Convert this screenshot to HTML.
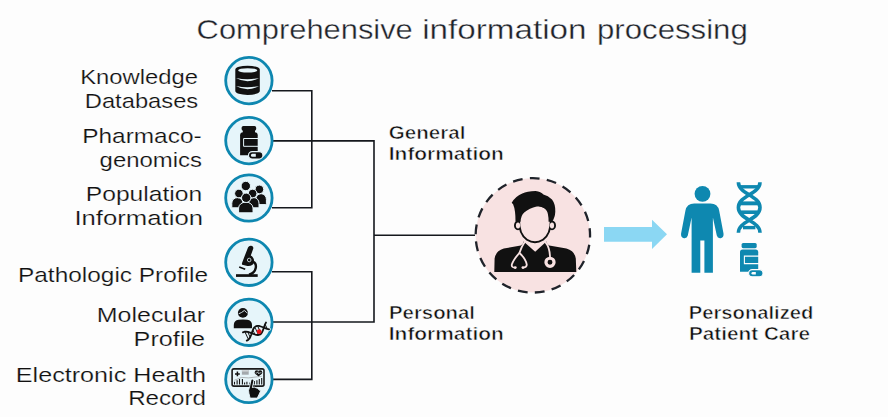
<!DOCTYPE html>
<html><head><meta charset="utf-8">
<style>
html,body{margin:0;padding:0;background:#fdfdfd;}
body{width:888px;height:417px;overflow:hidden;position:relative;}
svg{position:absolute;left:0;top:0;}
text{font-family:"Liberation Sans",sans-serif;}
.t{font-size:27.5px;fill:#1f232a;stroke:#fdfdfd;stroke-width:0.35px;}
.l{font-size:21px;fill:#111;stroke:#fdfdfd;stroke-width:0.2px;}
.b{font-size:18.5px;font-weight:bold;fill:#111;stroke:#fdfdfd;stroke-width:0.55px;}
</style></head><body>
<svg width="888" height="417" viewBox="0 0 888 417">
<!--TEXT-->
<text class="t" text-anchor="start" x="196.60" y="38.6" textLength="216.20" lengthAdjust="spacingAndGlyphs">Comprehensive</text>
<text class="t" text-anchor="start" x="422.20" y="38.6" textLength="164.40" lengthAdjust="spacingAndGlyphs">information</text>
<text class="t" text-anchor="start" x="597.00" y="38.6" textLength="150.80" lengthAdjust="spacingAndGlyphs">processing</text>
<text class="l" text-anchor="end" x="198.00" y="84" textLength="117.80" lengthAdjust="spacingAndGlyphs">Knowledge</text>
<text class="l" text-anchor="end" x="198.20" y="108" textLength="113.40" lengthAdjust="spacingAndGlyphs">Databases</text>
<text class="l" text-anchor="end" x="201.60" y="143" textLength="119.40" lengthAdjust="spacingAndGlyphs">Pharmaco-</text>
<text class="l" text-anchor="end" x="202.00" y="166.8" textLength="102.40" lengthAdjust="spacingAndGlyphs">genomics</text>
<text class="l" text-anchor="end" x="202.20" y="201" textLength="116.40" lengthAdjust="spacingAndGlyphs">Population</text>
<text class="l" text-anchor="end" x="203.00" y="225" textLength="128.60" lengthAdjust="spacingAndGlyphs">Information</text>
<text class="l" text-anchor="end" x="208.00" y="281.8" textLength="190.00" lengthAdjust="spacingAndGlyphs">Pathologic Profile</text>
<text class="l" text-anchor="end" x="205.00" y="322" textLength="108.20" lengthAdjust="spacingAndGlyphs">Molecular</text>
<text class="l" text-anchor="end" x="205.00" y="346" textLength="71.40" lengthAdjust="spacingAndGlyphs">Profile</text>
<text class="l" text-anchor="end" x="206.00" y="382" textLength="190.20" lengthAdjust="spacingAndGlyphs">Electronic Health</text>
<text class="l" text-anchor="end" x="206.00" y="405" textLength="77.80" lengthAdjust="spacingAndGlyphs">Record</text>
<text class="b" text-anchor="start" x="388.80" y="139" textLength="76.60" lengthAdjust="spacingAndGlyphs">General</text>
<text class="b" text-anchor="start" x="388.80" y="160" textLength="115.00" lengthAdjust="spacingAndGlyphs">Information</text>
<text class="b" text-anchor="start" x="389.00" y="319" textLength="86.00" lengthAdjust="spacingAndGlyphs">Personal</text>
<text class="b" text-anchor="start" x="388.80" y="340" textLength="115.00" lengthAdjust="spacingAndGlyphs">Information</text>
<text class="b" text-anchor="start" x="688.80" y="319" textLength="124.60" lengthAdjust="spacingAndGlyphs">Personalized</text>
<text class="b" text-anchor="start" x="689.00" y="340" textLength="121.00" lengthAdjust="spacingAndGlyphs">Patient Care</text>
<!--/TEXT-->

<!-- connector lines -->
<g fill="none" stroke="#15181d" stroke-width="1.6">
<path d="M272 90.8H311.8V207.8H272"/>
<path d="M272 140.9H374V322H272"/>
<path d="M272 271.7H311.8V379.4H272"/>
<path d="M374 235.3H475"/>
</g>

<!-- icon circles -->
<g fill="#e6f5fa" stroke="#0e87b0" stroke-width="2.8">
<circle cx="248.9" cy="80.6" r="23.2"/>
<circle cx="248.9" cy="140.6" r="23.2"/>
<circle cx="248.9" cy="198" r="23.2"/>
<circle cx="248.9" cy="262.3" r="23.2"/>
<circle cx="248.9" cy="322.3" r="23.2"/>
<circle cx="248.9" cy="379.5" r="23.2"/>
</g>

<!-- database icon -->
<g>
<path d="M235.3 69.6A12.25 3.9 0 0 1 259.8 69.6V91.1A12.25 3.9 0 0 1 235.3 91.1Z" fill="#111"/>
<ellipse cx="247.7" cy="70.4" rx="9.6" ry="2.2" fill="#e6f5fa"/>
<path d="M236 78Q247.5 84.6 259 78Q247.5 80.4 236 78Z" fill="#e6f5fa"/>
<path d="M236 86Q247.5 92.6 259 86Q247.5 88.4 236 86Z" fill="#e6f5fa"/>
</g>

<!-- pill bottle icon -->
<g>
<rect x="241.6" y="125.9" width="14.6" height="4.9" rx="1.8" fill="#111"/>
<rect x="242.8" y="130" width="12.2" height="3" fill="#111"/>
<path d="M240.1 135.2Q240.1 132.2 243.1 132.2H254.7Q257.7 132.2 257.7 135.2V155.3H240.1Z" fill="#111"/>
<path d="M258.4 138.5H243.6V146.3H258.4" fill="none" stroke="#e6f5fa" stroke-width="1"/>
<rect x="248.5" y="151.6" width="14.4" height="7.4" rx="3.7" fill="#111" stroke="#e6f5fa" stroke-width="1.1"/>
<path d="M255.8 153.8H252.4A1.5 1.5 0 0 0 252.4 156.8H255.8Z" fill="#e6f5fa"/>
</g>

<!-- people icon -->
<g fill="#111" stroke="#e6f5fa" stroke-width="1">
<circle cx="245.8" cy="186" r="4.7"/>
<path d="M255.8 204.6V199.4A5.2 5.6 0 0 1 266.4 199.4V203.6Q266.4 204.6 265.4 204.6Z"/>
<circle cx="259.4" cy="189.4" r="4.3"/>
<path d="M231.8 207.8V203.2A5.6 5.6 0 0 1 243 203.2V207.8Z"/>
<circle cx="238.9" cy="193.5" r="4.3"/>
<path d="M248.6 207.8V203.2A5.2 5.6 0 0 1 259 203.2V207.8Z"/>
<circle cx="252.6" cy="193.5" r="4.3"/>
<path d="M238.6 212.8V208A7.2 5.9 0 0 1 253 208V211.8Q253 212.8 252 212.8H239.6Q238.6 212.8 238.6 211.8Z"/>
<circle cx="246.2" cy="197.8" r="4.7"/>
</g>

<!-- microscope icon -->
<g fill="#111">
<rect x="236" y="274.2" width="21.7" height="2.7"/>
<path d="M252.3 261.4C257.6 263.2 257.4 272.2 249 274.6" fill="none" stroke="#111" stroke-width="2.4"/>
<path d="M251.3 245.7Q253.7 246.2 253.3 248.4L250.8 255.6Q254.6 258 254 262.2Q253 266.4 247.4 266L242.2 264.8Q241.6 264 242.2 262.4L248 247.4Q249 245.3 251.3 245.7Z"/>
<path d="M239.2 266.9L245.2 269.3" stroke="#111" stroke-width="1.6"/>
<circle cx="249.2" cy="260" r="1.8" fill="none" stroke="#e6f5fa" stroke-width="0.8"/>
</g>

<!-- molecular icon -->
<g>
<ellipse cx="242.9" cy="312.9" rx="5" ry="4.9" fill="#111"/>
<path d="M238.6 313.8Q241.4 313 244.3 310.5Q246 311.6 247.6 313.4" fill="none" stroke="#e6f5fa" stroke-width="0.9"/>
<path d="M233.8 328.2V325Q233.8 320.4 238.6 319.7Q243 319.1 247.2 319.7Q252 320.4 252 325V328.2Z" fill="#111"/>
<g id="dnaM" transform="translate(256.2 331.2) rotate(-25)" fill="none" stroke-linecap="round" stroke-linejoin="round">
<g stroke="#e6f5fa" stroke-width="3.4">
<path d="M-12.5 -4.5 -10.9 -4.5 -9.4 -3.9 -7.8 -2.8 -6.2 -1.3 -4.7 0.3 -3.1 1.9 -1.6 3.3 0.0 4.2 1.6 4.6 3.1 4.4 4.7 3.6 6.2 2.3 7.8 0.7 9.4 -0.9 10.9 -2.5 12.5 -3.7"/>
<path d="M-12.5 4.5 -10.9 4.5 -9.4 3.9 -7.8 2.8 -6.2 1.3 -4.7 -0.3 -3.1 -1.9 -1.6 -3.3 0.0 -4.2 1.6 -4.6 3.1 -4.4 4.7 -3.6 6.2 -2.3 7.8 -0.7 9.4 0.9 10.9 2.5 12.5 3.7"/>
</g>
<g stroke="#111" stroke-width="1.8">
<path d="M-12.5 -4.5 -10.9 -4.5 -9.4 -3.9 -7.8 -2.8 -6.2 -1.3 -4.7 0.3 -3.1 1.9 -1.6 3.3 0.0 4.2 1.6 4.6 3.1 4.4 4.7 3.6 6.2 2.3 7.8 0.7 9.4 -0.9 10.9 -2.5 12.5 -3.7"/>
<path d="M-12.5 4.5 -10.9 4.5 -9.4 3.9 -7.8 2.8 -6.2 1.3 -4.7 -0.3 -3.1 -1.9 -1.6 -3.3 0.0 -4.2 1.6 -4.6 3.1 -4.4 4.7 -3.6 6.2 -2.3 7.8 -0.7 9.4 0.9 10.9 2.5 12.5 3.7"/>
<path d="M-10.5 -3.7V3.7M-8 -2.5V2.5M-2.5 -2.1V2.1M0.5 -3.7V3.7M3.5 -3.6V3.6M11 -2.1V2.1" stroke-width="0.9"/>
</g>
</g>
<circle cx="259.2" cy="331.7" r="2.4" fill="#e8141b"/>
</g>

<!-- EHR icon -->
<g>
<rect x="232.1" y="368.9" width="31.9" height="17.2" rx="1.8" fill="#e6f5fa" stroke="#1a1a1a" stroke-width="1.6"/>
<path d="M235 373.9H239.8M237.4 371.5V376.3" stroke="#111" stroke-width="1.5"/>
<rect x="241.9" y="370" width="6.8" height="4.7" fill="#a3a9ad"/>
<rect x="241.9" y="370" width="6.8" height="1.6" fill="#cfd3d6"/>
<circle cx="256.8" cy="372.4" r="2.1" fill="#111"/>
<circle cx="260.2" cy="372.4" r="2.1" fill="#111"/>
<path d="M254.8 373.2L258.5 376.6L262.2 373.2Z" fill="#111"/>
<path d="M255.4 373H257L257.8 371.8L258.8 374L259.6 372.8H261.6" fill="none" stroke="#e6f5fa" stroke-width="0.6"/>
<path d="M234.2 380.3L241.6 377.4L248.5 377.9L261.7 376.3" fill="none" stroke="#777" stroke-width="0.5"/>
<path d="M234.5 384.4V381.8M237.1 384.4V380.3M239.5 384.4V378.9M242.4 384.4V378.9M244.6 384.4V382.6M246.9 384.4V381.8M250 384.4V382.6M254.3 384.4V381M256.9 384.4V380.3M259.3 384.4V378.9M261.7 384.4V378.1" stroke="#111" stroke-width="1.1"/>
<path d="M252.4 380.4L250.6 389" stroke="#e6f5fa" stroke-width="3.6" stroke-linecap="round"/>
<path d="M248.5 390.2Q249.2 387.9 250.9 387.6L254.2 387.1Q257.4 387.6 260.6 391.1L258.9 394.7L257.3 398.1H250.1L248.9 393.2Z" fill="#111" stroke="#e6f5fa" stroke-width="0.9"/>
<path d="M252.4 380.4L250.6 389" stroke="#111" stroke-width="2" stroke-linecap="round"/>
</g>

<!-- doctor circle -->
<circle cx="532.85" cy="235.35" r="57.2" fill="#f8e2e2" stroke="#1f232a" stroke-width="2.3" stroke-dasharray="9.8 7.31" stroke-dashoffset="-9.45"/>

<!-- arrow -->
<path d="M604 227.1H652V219.8L667 234.3L652 249V241.8H604Z" fill="#8bd7f3"/>

<!-- doctor -->
<g>
<path d="M494.3 271.9L494.6 258.5Q495.8 250.8 503.8 248.6L520.8 245.4Q523 244.6 523.6 241.4L535.2 251.8L546.4 241.4Q547 244.6 549.2 245.4L566.4 248.6Q574.6 250.8 575.8 258.5L576.3 271.9Z" fill="#111"/>
<g fill="#111" stroke="#111" stroke-width="3.8">
<ellipse cx="518" cy="225.4" rx="2.1" ry="3"/>
<ellipse cx="552" cy="225.4" rx="2.1" ry="3"/>
<path d="M520 220Q519.8 233.5 527.5 239Q535 243.6 542.4 239Q550 233.5 549.8 220Q549.8 206 534.9 206Q520 206 520 220Z"/>
</g>
<g fill="#f8e2e2">
<ellipse cx="518" cy="225.4" rx="2.1" ry="3"/>
<ellipse cx="552" cy="225.4" rx="2.1" ry="3"/>
<path d="M520 220Q519.8 233.5 527.5 239Q535 243.6 542.4 239Q550 233.5 549.8 220Q549.8 206 534.9 206Q520 206 520 220Z"/>
</g>
<path d="M511.7 202.7Q516 196 522.3 193.6Q527 191 535.7 190.9Q541 191.5 543.4 194.6Q548 195.5 552 199.4Q555.6 204 555.3 211.8Q555 218 552 221.8L548.6 221.8Q548.6 213 546.2 210Q542.4 205.6 536.6 206.4Q529.6 207.8 524.2 212.6Q520.8 215.6 520.6 221.8L515.5 221.8Q515.6 210 513.1 204.2Z" fill="#111"/>
<g fill="none" stroke="#f8e2e2" stroke-width="1.8" stroke-linecap="round">
<path d="M524.4 242.6Q521.6 246.6 519.4 253Q513.4 259.6 511.8 264.6Q511.4 267.4 514.6 267.6"/>
<path d="M519.4 253Q525.8 258.8 526.8 264.6Q526.8 267.4 523.6 267.6"/>
<path d="M545.6 242.4Q549.6 247.4 550 256.6"/>
</g>
<circle cx="515.3" cy="267.6" r="1.4" fill="#f8e2e2"/>
<circle cx="522.9" cy="267.6" r="1.4" fill="#f8e2e2"/>
<circle cx="550" cy="262.3" r="4.05" fill="#111" stroke="#f8e2e2" stroke-width="3.2"/>
</g>

<!-- person -->
<g fill="#0e88b0">
<circle cx="702.5" cy="193.8" r="7.9"/>
<path d="M702.6 203.6H694.2Q686.8 203.6 685.4 210.8L681.1 233.6Q680.7 237.6 684 238.2Q687 238.6 687.8 235.6L691.6 217.4V272.8H700.3V240.6H704.4V272.8H712.9V217.4L716.8 235.6Q717.6 238.6 720.6 238.2Q723.9 237.6 723.5 233.6L719.2 210.8Q717.8 203.6 710.4 203.6Z"/>
</g>

<!-- dna -->
<g fill="none" stroke="#0e88b0" stroke-width="3.6">
<path d="M738.4 182.2C738.4 194 760 195.5 760 207.5C760 219.5 738.4 221 738.4 232.7"/>
<path d="M760 182.2C760 194 738.4 195.5 738.4 207.5C738.4 219.5 760 221 760 232.7"/>
</g>
<g fill="#0e88b0">
<rect x="739.6" y="185.1" width="19.2" height="3.4"/>
<rect x="740" y="201.4" width="18.4" height="3.9"/>
<rect x="740" y="210.4" width="18.4" height="3.6"/>
<rect x="743" y="225.9" width="12.4" height="3.4"/>
</g>

<!-- bottle -->
<g>
<rect x="741.6" y="243" width="15.1" height="5.2" rx="1.6" fill="#0e88b0"/>
<path d="M740 252.2Q740 249.6 742.6 249.6H755.6Q758.2 249.6 758.2 252.2V271.8H740Z" fill="#0e88b0"/>
<path d="M759 256.1H744.4V263.6H759" fill="none" stroke="#fdfdfd" stroke-width="1.1"/>
<rect x="748.6" y="269.6" width="14.4" height="7.2" rx="3.6" fill="#0e88b0" stroke="#fdfdfd" stroke-width="1.1"/>
<path d="M755.8 272H752.8A1.3 1.3 0 0 0 752.8 274.6H755.8Z" fill="#fdfdfd"/>
</g>
</svg>
</body></html>
